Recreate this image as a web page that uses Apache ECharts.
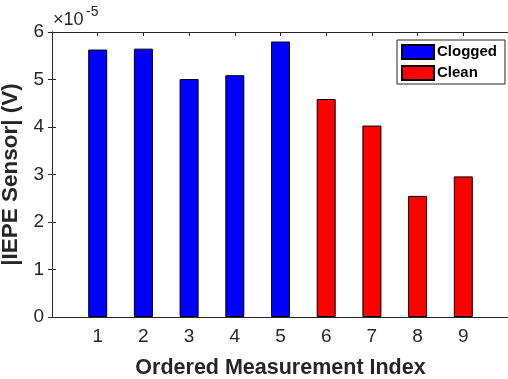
<!DOCTYPE html>
<html>
<head>
<meta charset="utf-8">
<script src="https://cdn.jsdelivr.net/npm/echarts@6/dist/echarts.min.js"></script>
<style>
  html, body { margin: 0; padding: 0; background: #fff; }
  #chart { width: 508px; height: 379px; }
</style>
</head>
<body>
<div id="chart"></div>
<script>
// Measurement indices and sensor amplitudes (in units of 1e-5 V)
const cloggedIndex = [1, 2, 3, 4, 5];
const cloggedValues = [5.63, 5.65, 5.01, 5.09, 5.80];
const cleanIndex = [6, 7, 8, 9];
const cleanValues = [4.59, 4.03, 2.55, 2.96];
const yTicks = [0, 1, 2, 3, 4, 5, 6];
const xTicks = [1, 2, 3, 4, 5, 6, 7, 8, 9];

const FONT = '"Liberation Sans", Arial, Helvetica, sans-serif';
const AXIS_COLOR = '#262626';

const pair = (xs, ys) => xs.map((x, i) => [x, ys[i]]);

const chart = echarts.init(document.getElementById('chart'), null, { renderer: 'canvas' });

const baseX = {
  type: 'value', min: 0, max: 10, interval: 1,
  splitLine: { show: false },
  axisLine: { show: true, onZero: false, lineStyle: { color: AXIS_COLOR, width: 1 } },
  axisTick: { show: true, inside: true, length: 4, lineStyle: { color: AXIS_COLOR } }
};
const baseY = {
  type: 'value', min: yTicks[0], max: yTicks[yTicks.length - 1], interval: 1,
  splitLine: { show: false },
  axisLine: { show: true, lineStyle: { color: AXIS_COLOR, width: 1 } },
  axisTick: { show: true, inside: true, length: 4, lineStyle: { color: AXIS_COLOR } }
};

chart.setOption({
  animation: false,
  backgroundColor: '#fff',
  grid: { left: 52, top: 32, width: 457, height: 285, containLabel: false, outerBoundsMode: 'none' },
  xAxis: [
    Object.assign({}, baseX, {
      position: 'bottom',
      name: 'Ordered Measurement Index',
      nameLocation: 'middle',
      nameGap: 40,
      nameTextStyle: { fontFamily: FONT, fontWeight: 'bold', fontSize: 21.5, color: AXIS_COLOR },
      axisLabel: {
        fontFamily: FONT, fontSize: 19, color: AXIS_COLOR, margin: 10,
        formatter: v => (xTicks.indexOf(v) >= 0 ? String(v) : '')
      }
    }),
    Object.assign({}, baseX, { position: 'top', axisLabel: { show: false } })
  ],
  yAxis: [
    Object.assign({}, baseY, {
      position: 'left',
      name: '|IEPE Sensor| (V)',
      nameLocation: 'middle',
      nameGap: 19,
      nameRotate: 90,
      nameTextStyle: { fontFamily: FONT, fontWeight: 'bold', fontSize: 22.5, color: AXIS_COLOR },
      axisLabel: { fontFamily: FONT, fontSize: 19, color: AXIS_COLOR, margin: 8 }
    }),
    Object.assign({}, baseY, { position: 'right', axisLabel: { show: false } })
  ],
  legend: {
    orient: 'vertical',
    left: 397, top: 40,
    padding: [4, 8, 3, 4],
    itemWidth: 32, itemHeight: 14, itemGap: 5,
    icon: 'rect',
    backgroundColor: '#fff',
    borderColor: AXIS_COLOR, borderWidth: 1,
    textStyle: { fontFamily: FONT, fontWeight: 'bold', fontSize: 15, color: '#000', padding: [0, 0, 0, -2] },
    data: ['Clogged', 'Clean']
  },
  graphic: [
    {
      type: 'text', x: 53, y: 11,
      style: { text: '×10', fontFamily: FONT, fontSize: 18, fill: AXIS_COLOR, verticalAlign: 'top' }
    },
    {
      type: 'text', x: 86, y: 5,
      style: { text: '-5', fontFamily: FONT, fontSize: 14, fill: AXIS_COLOR, verticalAlign: 'top' }
    }
  ],
  series: [
    {
      name: 'Clogged', type: 'bar', barWidth: 19, barGap: '-100%',
      itemStyle: { color: '#0000ff', borderColor: '#000', borderWidth: 1 },
      data: pair(cloggedIndex, cloggedValues)
    },
    {
      name: 'Clean', type: 'bar', barWidth: 19, barGap: '-100%',
      itemStyle: { color: '#ff0000', borderColor: '#000', borderWidth: 1 },
      data: pair(cleanIndex, cleanValues)
    }
  ]
});
</script>
</body>
</html>
